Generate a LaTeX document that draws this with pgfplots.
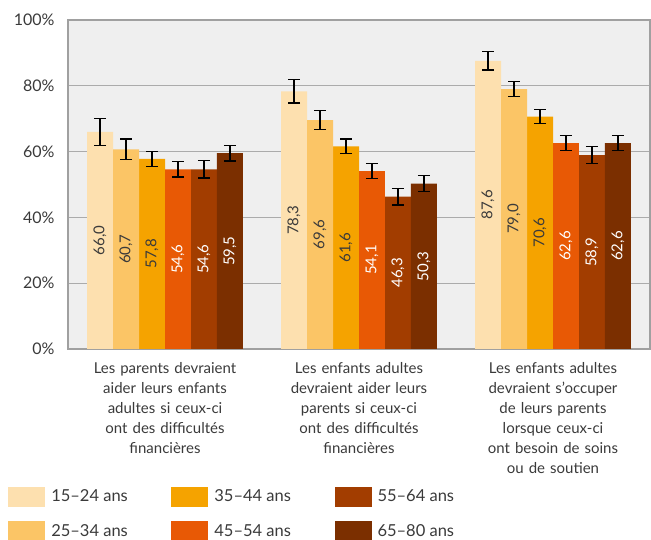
\documentclass[border=0pt]{standalone}
\usepackage{fontspec}
\setmainfont{Lato}
\usepackage{pgfplots}
\pgfplotsset{compat=1.18}
\usepackage{pgfplotstable}
\definecolor{cA}{HTML}{FDE0AF}
\definecolor{cB}{HTML}{FBC566}
\definecolor{cC}{HTML}{F5A300}
\definecolor{cD}{HTML}{E85905}
\definecolor{cE}{HTML}{A23D00}
\definecolor{cF}{HTML}{7B2F00}
\definecolor{bggray}{HTML}{EFEFEF}
\definecolor{gridgray}{HTML}{ABABAB}
\definecolor{axisgray}{HTML}{A0A0A0}
\definecolor{labgray}{HTML}{3A3A3A}
\pgfplotstableread{
x s1 e1 s2 e2 s3 e3 s4 e4 s5 e5 s6 e6
0 66.0 4.1 60.7 3.1 57.8 2.3 54.6 2.3 54.6 2.6 59.5 2.35
1 78.3 3.55 69.6 2.9 61.6 2.2 54.1 2.3 46.3 2.55 50.3 2.45
2 87.6 2.8 79.0 2.3 70.6 2.1 62.6 2.3 58.9 2.6 62.6 2.3
}\data
\begin{document}
\begin{tikzpicture}
\begin{axis}[
  at={(0,0)}, anchor=south west,
  scale only axis, width=582pt, height=329pt,
  ymin=0, ymax=100, xmin=-0.5, xmax=2.5,
  ytick={0,20,...,100}, xtick={0,1,2},
  xticklabels={{Les parents devraient\\aider leurs enfants\\adultes si ceux-ci\\ont des difficultés\\financières},
               {Les enfants adultes\\devraient aider leurs\\parents si ceux-ci\\ont des difficultés\\financières},
               {Les enfants adultes\\devraient s’occuper\\de leurs parents\\lorsque ceux-ci\\ont besoin de soins\\ou de soutien}},
  ybar, bar width=0.134,
  ymajorgrids, grid style={color=gridgray, line width=1pt},
  axis background/.style={fill=bggray},
  axis line style={draw=axisgray, line width=1.5pt},
  major tick length=0,
  tick label style={font=\fontsize{16}{19}\selectfont, text=labgray},
  xticklabel style={font=\fontsize{15}{20}\selectfont, align=center, text width=170pt, yshift=-10pt},
  yticklabel={\pgfmathprintnumber{\tick}\%},
  yticklabel style={xshift=-10pt},
  /pgf/number format/assume math mode=true,
  error bars/y dir=both, error bars/y explicit,
  error bars/error bar style={line width=1.2pt, black},
  error bars/error mark options={rotate=90, mark size=6pt, line width=1.2pt, black},
  nodes near coords={\pgfmathprintnumber[fixed,fixed zerofill,precision=1,use comma]{\pgfplotspointmeta}},
  visualization depends on={rawy \as \rawy},
  every node near coord/.append style={yshift={-\rawy*1.645pt}, rotate=90, anchor=center, font=\fontsize{15}{18}\selectfont, text=labgray},
  legend columns=3,
  legend cell align=left,
  legend image code/.code={\fill[#1] (0pt,-10pt) rectangle (37pt,10pt);},
  legend style={draw=none, fill=none, at={(axis description cs:-0.103,-0.418)}, anchor=north west,
    inner sep=0pt, font=\fontsize{16.5}{19}\selectfont, text=labgray, row sep=14.5pt,
    /tikz/every odd column/.append style={column sep=4pt},
    /tikz/every even column/.append style={column sep=41.5pt}},
]
\addplot[fill=cA, draw=none, bar shift=-0.335] table[x=x, y=s1, y error=e1] {\data};
\addlegendentry{15--24 ans}
\addplot[fill=cC, draw=none, bar shift=-0.067] table[x=x, y=s3, y error=e3] {\data};
\addlegendentry{35--44 ans}
\addplot[fill=cE, draw=none, bar shift=0.201, every node near coord/.append style={text=white}] table[x=x, y=s5, y error=e5] {\data};
\addlegendentry{55--64 ans}
\addplot[fill=cB, draw=none, bar shift=-0.201] table[x=x, y=s2, y error=e2] {\data};
\addlegendentry{25--34 ans}
\addplot[fill=cD, draw=none, bar shift=0.067, every node near coord/.append style={text=white}] table[x=x, y=s4, y error=e4] {\data};
\addlegendentry{45--54 ans}
\addplot[fill=cF, draw=none, bar shift=0.335, every node near coord/.append style={text=white}] table[x=x, y=s6, y error=e6] {\data};
\addlegendentry{65--80 ans}
\end{axis}
\pgfresetboundingbox
\useasboundingbox (-68pt,-191pt) rectangle (583pt,349pt);
\end{tikzpicture}
\end{document}
